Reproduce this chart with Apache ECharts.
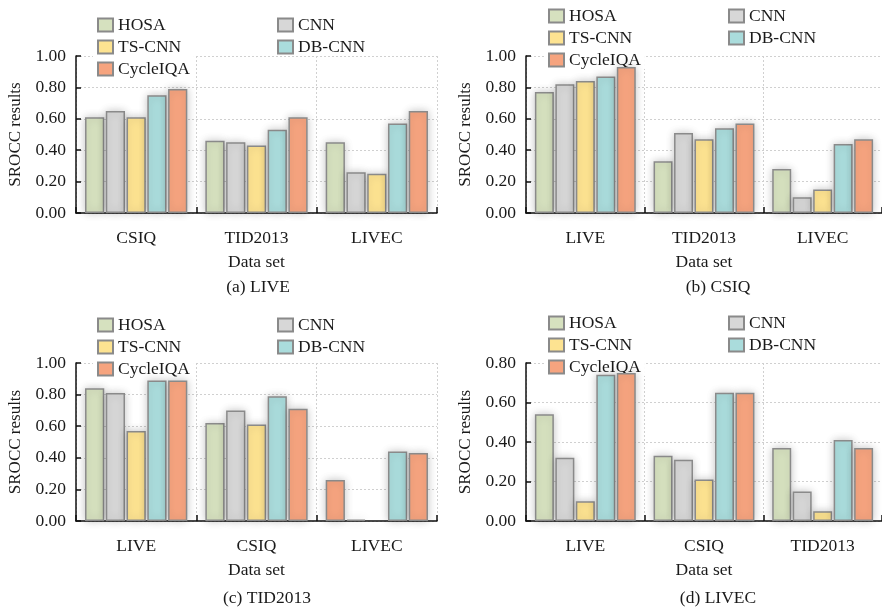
<!DOCTYPE html>
<html>
<head>
<meta charset="utf-8">
<script src="https://cdn.jsdelivr.net/npm/echarts@6/dist/echarts.min.js"></script>
<style>
  html, body { margin: 0; padding: 0; background: #fff; }
  #chart { width: 882px; height: 609px; }
</style>
</head>
<body>
<div id="chart"></div>
<script>
// 方法名称与颜色
const methodNames = ['HOSA', 'CNN', 'TS-CNN', 'DB-CNN', 'CycleIQA'];
const methodColors = ['#d6e1bf', '#d7d7d7', '#fde391', '#aadcdc', '#f6a47f'];

// (a) LIVE 训练
const catsA = ['CSIQ', 'TID2013', 'LIVEC'];
const liveHosa = [0.61, 0.46, 0.45];
const liveCnn = [0.65, 0.45, 0.26];
const liveTs = [0.61, 0.43, 0.25];
const liveDb = [0.75, 0.53, 0.57];
const liveCycle = [0.79, 0.61, 0.65];

// (b) CSIQ 训练
const catsB = ['LIVE', 'TID2013', 'LIVEC'];
const csiqHosa = [0.77, 0.33, 0.28];
const csiqCnn = [0.82, 0.51, 0.10];
const csiqTs = [0.84, 0.47, 0.15];
const csiqDb = [0.87, 0.54, 0.44];
const csiqCycle = [0.93, 0.57, 0.47];

// (c) TID2013 训练
const catsC = ['LIVE', 'CSIQ', 'LIVEC'];
const tidHosa = [0.84, 0.62, 0.26];
const tidCnn = [0.81, 0.70, 0.008];
const tidTs = [0.57, 0.61, null];
const tidDb = [0.89, 0.79, 0.44];
const tidCycle = [0.89, 0.71, 0.43];
// 原图中 LIVEC 的 HOSA 柱子画成了橙色
const tidOrangeIndex = 2;

// (d) LIVEC 训练
const catsD = ['LIVE', 'CSIQ', 'TID2013'];
const livecHosa = [0.54, 0.33, 0.37];
const livecCnn = [0.32, 0.31, 0.15];
const livecTs = [0.10, 0.21, 0.05];
const livecDb = [0.74, 0.65, 0.41];
const livecCycle = [0.75, 0.65, 0.37];

const yTicksA = [0, 0.2, 0.4, 0.6, 0.8, 1.0];
const yTicksD = [0, 0.2, 0.4, 0.6, 0.8];

const FONT = "'Liberation Serif', 'Times New Roman', serif";
const TEXT = '#1a1a1a';

const panels = [
  { cats: catsA, data: [liveHosa, liveCnn, liveTs, liveDb, liveCycle], ticks: yTicksA,
    grid: { left: 76, top: 56, width: 361, height: 157 }, caption: '(a) LIVE', capX: 258, capY: 278,
    legendX: 97, legendY: 14 },
  { cats: catsB, data: [csiqHosa, csiqCnn, csiqTs, csiqDb, csiqCycle], ticks: yTicksA,
    grid: { left: 526, top: 56, width: 362, height: 157 }, caption: '(b) CSIQ', capX: 718, capY: 278,
    legendX: 548, legendY: 5 },
  { cats: catsC, data: [tidHosa, tidCnn, tidTs, tidDb, tidCycle], ticks: yTicksA,
    grid: { left: 76, top: 363, width: 361, height: 158 }, caption: '(c) TID2013', capX: 267, capY: 589,
    legendX: 97, legendY: 314, orange: tidOrangeIndex },
  { cats: catsD, data: [livecHosa, livecCnn, livecTs, livecDb, livecCycle], ticks: yTicksD,
    grid: { left: 526, top: 363, width: 362, height: 158 }, caption: '(d) LIVEC', capX: 718, capY: 589,
    legendX: 548, legendY: 312 }
];

const grids = [];
const xAxes = [];
const yAxes = [];
const series = [];
const legends = [];
const titles = [];

panels.forEach((p, pi) => {
  grids.push(Object.assign({ containLabel: false }, p.grid));

  xAxes.push({
    type: 'category',
    gridIndex: pi,
    data: p.cats,
    name: 'Data set',
    nameLocation: 'middle',
    nameGap: 40,
    nameTextStyle: { fontFamily: FONT, fontSize: 17.5, color: TEXT },
    axisLine: { lineStyle: { color: '#111', width: 1.5 } },
    axisTick: { show: true, inside: true, length: 6, lineStyle: { color: '#111', width: 1.5 } },
    axisLabel: { fontFamily: FONT, fontSize: 17.5, color: TEXT, margin: 16 },
    splitLine: { show: true, lineStyle: { color: '#d0d0d0', type: [2, 2], width: 1 } }
  });

  const max = p.ticks[p.ticks.length - 1];
  yAxes.push({
    type: 'value',
    gridIndex: pi,
    min: 0,
    max: max,
    interval: 0.2,
    name: 'SROCC results',
    nameLocation: 'middle',
    nameGap: 52,
    nameTextStyle: { fontFamily: FONT, fontSize: 17, color: TEXT },
    axisLine: { show: true, lineStyle: { color: '#111', width: 1.5 } },
    axisTick: { show: true, inside: true, length: 5, lineStyle: { color: '#111', width: 1.5 } },
    axisLabel: {
      fontFamily: FONT, fontSize: 17.5, color: TEXT, margin: 10,
      formatter: v => v.toFixed(2)
    },
    splitLine: { show: true, lineStyle: { color: '#d0d0d0', type: [2, 2], width: 1 } }
  });

  methodNames.forEach((name, si) => {
    const values = p.data[si].map((v, ci) => {
      if (v === null) return '-';
      if (p.orange !== undefined && si === 0 && ci === p.orange) {
        return { value: v, itemStyle: { color: methodColors[4] } };
      }
      return v;
    });
    series.push({
      name: name,
      type: 'bar',
      xAxisIndex: pi,
      yAxisIndex: pi,
      data: values,
      barCategoryGap: '15%',
      barGap: '8%',
      itemStyle: {
        color: methodColors[si],
        borderColor: '#8a8a8a',
        borderWidth: 1.5,
        shadowBlur: 8,
        shadowColor: 'rgba(0,0,0,0.22)'
      },
      emphasis: { disabled: true }
    });
  });

  const legendText = { fontFamily: FONT, fontSize: 17.5, color: TEXT, lineHeight: 17 };
  // 左列图例（白色背景遮住顶部网格线，但压在柱子下面）
  legends.push({
    orient: 'vertical',
    z: 1,
    left: p.legendX - 4,
    top: p.legendY,
    padding: [2, 4, 0, 4],
    backgroundColor: '#fff',
    icon: 'rect',
    itemWidth: 15,
    itemHeight: 13,
    itemGap: 4,
    textStyle: legendText,
    selectedMode: false,
    data: ['HOSA', 'TS-CNN', 'CycleIQA']
  });
  // 右列图例
  legends.push({
    orient: 'vertical',
    z: 1,
    left: p.legendX + 176,
    top: p.legendY,
    padding: [2, 4, 0, 4],
    icon: 'rect',
    itemWidth: 15,
    itemHeight: 13,
    itemGap: 4,
    textStyle: legendText,
    selectedMode: false,
    data: ['CNN', 'DB-CNN']
  });

  titles.push({
    text: p.caption,
    left: p.capX,
    top: p.capY,
    textAlign: 'center',
    padding: 0,
    textStyle: { fontFamily: FONT, fontSize: 17.5, fontWeight: 'normal', color: TEXT }
  });
});

const myChart = echarts.init(document.getElementById('chart'), null, { renderer: 'canvas' });
myChart.setOption({
  animation: false,
  backgroundColor: '#fff',
  title: titles,
  legend: legends,
  grid: grids,
  xAxis: xAxes,
  yAxis: yAxes,
  series: series
});
</script>
</body>
</html>
